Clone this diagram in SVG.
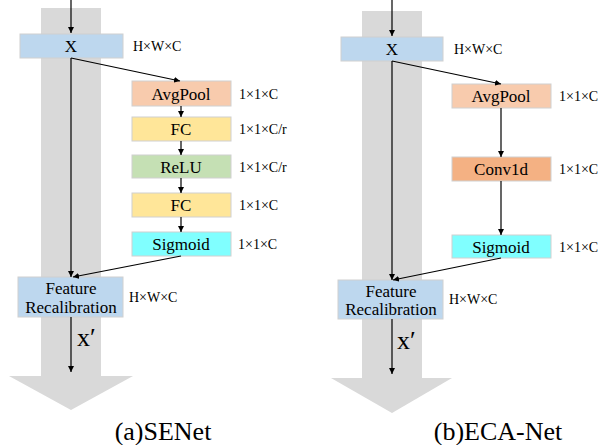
<svg xmlns="http://www.w3.org/2000/svg" width="602" height="445" viewBox="0 0 602 445" font-family="'Liberation Serif', 'Times New Roman', Times, serif">
<defs>
<marker id="ah" viewBox="0 0 10 10" refX="10" refY="5" markerWidth="6" markerHeight="6" markerUnits="userSpaceOnUse" orient="auto">
<path d="M0,0 L10,5 L0,10 z" fill="#000"/>
</marker>
<style>
.bg{fill:#d9d9d9}
.box{stroke:#d0d0d0;stroke-width:1}
.blue{fill:#bdd7ee}.pool{fill:#f8cbad}.fc{fill:#ffe699}.relu{fill:#c5e0b4}.sig{fill:#80ffff}.conv{fill:#f4b183}
text{font-family:'Liberation Serif','Times New Roman',Times,serif}
.t{font-size:17px;text-anchor:middle;fill:#000}
.s{font-size:14px;fill:#000}
.xp{font-size:26px;fill:#000}
.cap{font-size:26px;text-anchor:middle;fill:#000}
.c{stroke:#000;stroke-width:1.2;fill:none;marker-end:url(#ah)}
</style>
</defs>
<rect width="602" height="445" fill="#fff"/>
<g id="bgA"><path class="bg" d="M41,8 H101 V376 H133 L71,410 L9,376 H41 Z"/></g>
<g id="bgB"><path class="bg" d="M362,11 H422 V378 H452 L392,413 L331,378 H362 Z"/></g>

<g id="a_x"><rect class="box blue" x="20" y="34" width="103" height="24"/><text class="t" x="71" y="52">X</text><text class="s" x="133" y="51">H×W×C</text></g>
<g id="a_pool"><rect class="box pool" x="132" y="81" width="99" height="25"/><text class="t" x="181" y="99.5">AvgPool</text><text class="s" x="239" y="99">1×1×C</text></g>
<g id="a_fc1"><rect class="box fc" x="132" y="117" width="99" height="24"/><text class="t" x="181" y="135">FC</text><text class="s" x="239" y="134">1×1×C/r</text></g>
<g id="a_relu"><rect class="box relu" x="132" y="155" width="99" height="23"/><text class="t" x="181" y="172.5">ReLU</text><text class="s" x="239" y="172">1×1×C/r</text></g>
<g id="a_fc2"><rect class="box fc" x="132" y="193" width="99" height="24"/><text class="t" x="181" y="211">FC</text><text class="s" x="239" y="210">1×1×C</text></g>
<g id="a_sig"><rect class="box sig" x="132" y="232" width="99" height="24"/><text class="t" x="181" y="250">Sigmoid</text><text class="s" x="238" y="249">1×1×C</text></g>
<g id="a_fr"><rect class="box blue" x="18" y="277" width="105" height="40"/><text class="t" x="71" y="294">Feature</text><text class="t" x="71" y="313">Recalibration</text><text class="s" x="129" y="302">H×W×C</text></g>
<g id="a_lbl"><text class="xp" x="77" y="346">x′</text><text class="cap" x="163" y="440">(a)SENet</text></g>

<g id="b_x"><rect class="box blue" x="341" y="37" width="102" height="24"/><text class="t" x="392" y="55">X</text><text class="s" x="454" y="54">H×W×C</text></g>
<g id="b_pool"><rect class="box pool" x="452" y="84" width="99" height="24"/><text class="t" x="501" y="102">AvgPool</text><text class="s" x="559" y="101">1×1×C</text></g>
<g id="b_conv"><rect class="box conv" x="452" y="157" width="99" height="24"/><text class="t" x="501" y="175">Conv1d</text><text class="s" x="559" y="174">1×1×C</text></g>
<g id="b_sig"><rect class="box sig" x="452" y="235" width="99" height="23"/><text class="t" x="501" y="252.5">Sigmoid</text><text class="s" x="559" y="252">1×1×C</text></g>
<g id="b_fr"><rect class="box blue" x="338" y="280" width="105" height="39"/><text class="t" x="391" y="297">Feature</text><text class="t" x="391" y="315">Recalibration</text><text class="s" x="449" y="304">H×W×C</text></g>
<g id="b_lbl"><text class="xp" x="397" y="349">x′</text><text class="cap" x="498" y="440">(b)ECA-Net</text></g>

<g id="connectors">
<line class="c" x1="71" y1="0" x2="71" y2="33"/>
<line class="c" x1="71" y1="58" x2="180" y2="81"/>
<line class="c" x1="71" y1="58" x2="71" y2="277"/>
<line class="c" x1="181" y1="106" x2="181" y2="117"/>
<line class="c" x1="181" y1="141" x2="181" y2="155"/>
<line class="c" x1="181" y1="178" x2="181" y2="193"/>
<line class="c" x1="181" y1="217" x2="181" y2="232"/>
<line class="c" x1="181" y1="256" x2="73" y2="277"/>
<line class="c" x1="71" y1="317" x2="71" y2="372"/>
<line class="c" x1="392" y1="0" x2="392" y2="36"/>
<line class="c" x1="392" y1="61" x2="501" y2="84"/>
<line class="c" x1="392" y1="61" x2="392" y2="280"/>
<line class="c" x1="501" y1="108" x2="501" y2="157"/>
<line class="c" x1="501" y1="181" x2="501" y2="235"/>
<line class="c" x1="501" y1="258" x2="393" y2="280"/>
<line class="c" x1="392" y1="319" x2="392" y2="374"/>
</g>
</svg>
